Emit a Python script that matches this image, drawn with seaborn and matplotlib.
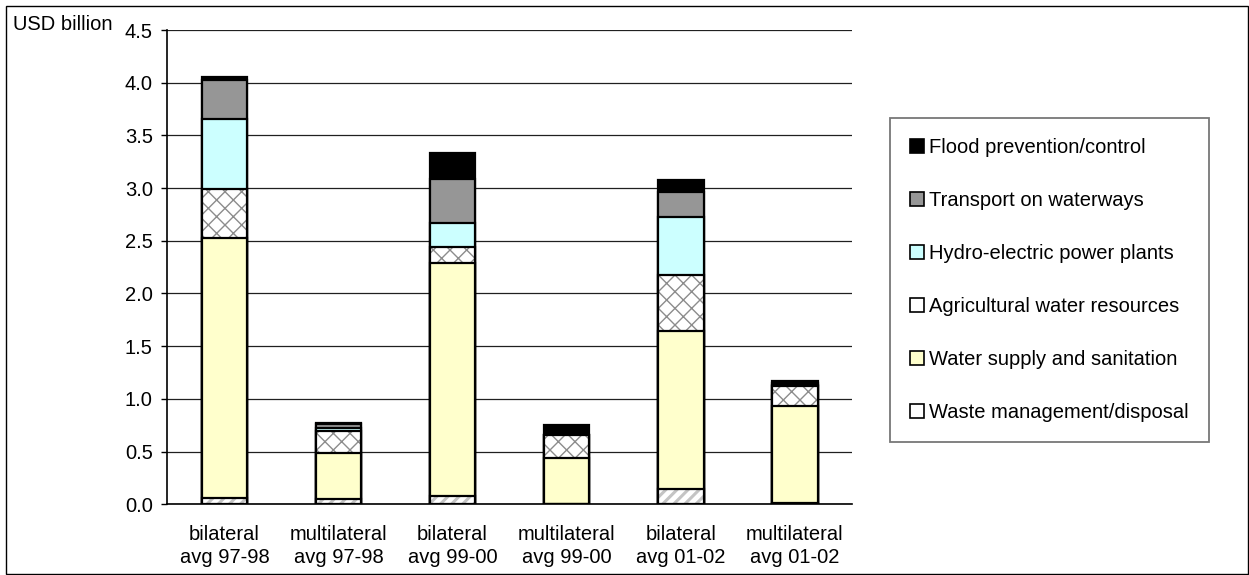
import numpy as np
import matplotlib
matplotlib.use("Agg")
import matplotlib.pyplot as plt
from matplotlib.patches import Patch, Rectangle
from matplotlib.ticker import MultipleLocator, FormatStrFormatter, FixedLocator
import seaborn as sns

# ---- data (USD billion) ----
categories = ["bilateral\navg 97-98", "multilateral\navg 97-98", "bilateral\navg 99-00",
              "multilateral\navg 99-00", "bilateral\navg 01-02", "multilateral\navg 01-02"]
waste = [0.055, 0.05, 0.08, 0.00, 0.145, 0.015]
water = [2.47, 0.435, 2.21, 0.44, 1.50, 0.92]
agri = [0.47, 0.215, 0.15, 0.22, 0.53, 0.19]
hydro = [0.66, 0.02, 0.23, 0.00, 0.55, 0.01]
transport = [0.37, 0.04, 0.42, 0.00, 0.24, 0.015]
flood = [0.025, 0.01, 0.24, 0.095, 0.11, 0.02]

series_names = ["Waste management/disposal", "Water supply and sanitation",
                "Agricultural water resources", "Hydro-electric power plants",
                "Transport on waterways", "Flood prevention/control"]
series_values = [waste, water, agri, hydro, transport, flood]

# fill colour, hatch pattern, hatch colour, hatch width per series (bottom to top)
styles = [
    ("#FFFFFF", "///", "#C4C4C4", 2.2),
    ("#FFFFCC", None, "#000000", 1.0),
    ("#FFFFFF", "xx", "#8C8C8C", 1.0),
    ("#CCFFFF", None, "#000000", 1.0),
    ("#969696", None, "#000000", 1.0),
    ("#000000", None, "#000000", 1.0),
]

sns.set_style("white")
plt.rcParams["font.family"] = ["Liberation Sans", "DejaVu Sans"]
plt.rcParams["hatch.linewidth"] = 1.0
plt.rcParams["text.color"] = "black"
plt.rcParams["xtick.color"] = "black"
plt.rcParams["ytick.color"] = "black"
plt.rcParams["xtick.labelcolor"] = "black"
plt.rcParams["ytick.labelcolor"] = "black"
FS = 14.5

fig = plt.figure(figsize=(12.49, 5.75), dpi=100)
ax = fig.add_axes([0.134, 0.123, 0.548, 0.8248])

# stacked columns: draw cumulative totals from the top series down so
# each lower segment covers the one above it
cum = np.cumsum(np.array(series_values), axis=0)
for i in range(len(series_names) - 1, -1, -1):
    face, hatch, hcol, hlw = styles[i]
    n0 = len(ax.patches)
    sns.barplot(x=categories, y=cum[i], order=categories, color=face,
                saturation=1, width=0.4, errorbar=None, ax=ax, zorder=2)
    new = ax.patches[n0:]
    for p in new:
        p.set_facecolor(face)
        p.set_edgecolor(hcol)
        p.set_linewidth(0)
        if hatch:
            p.set_hatch(hatch)
            if hasattr(p, "set_hatch_linewidth"):
                p.set_hatch_linewidth(hlw)
        ax.add_patch(Rectangle(p.get_xy(), p.get_width(), p.get_height(),
                               fill=False, edgecolor="black", linewidth=1.6, zorder=2))

ax.set_xlim(-0.5, len(categories) - 0.5)
ax.set_ylim(0, 4.5)
ax.yaxis.set_major_locator(MultipleLocator(0.5))
ax.yaxis.set_major_formatter(FormatStrFormatter("%.1f"))
ax.yaxis.grid(True, color="#202020", linewidth=0.9)
ax.xaxis.grid(False)
ax.set_axisbelow(True)

ax.set_xticks(range(len(categories)))
ax.set_xticklabels(categories, fontsize=FS, linespacing=1.25, color="black")
ax.xaxis.set_minor_locator(FixedLocator(np.arange(-0.5, len(categories), 1.0)))
ax.tick_params(axis="x", which="major", length=0, pad=15)
ax.tick_params(axis="x", which="minor", length=4.5, width=1, color="black", direction="out")
ax.tick_params(axis="y", which="major", length=4.5, width=1, color="black",
               direction="out", labelsize=FS, pad=6, left=True, labelcolor="black")
ax.set_xlabel("")
ax.set_ylabel("")

for side in ("top", "right"):
    ax.spines[side].set_visible(False)
for side in ("left", "bottom"):
    ax.spines[side].set_color("black")
    ax.spines[side].set_linewidth(1.2)

fig.text(13 / 1249, 1 - 25 / 575, "USD billion", fontsize=FS, ha="left", va="center",
         color="black")

# legend: top series listed first
handles = []
for i in range(len(series_names) - 1, -1, -1):
    face = styles[i][0]
    handles.append(Patch(facecolor=face, edgecolor="black", linewidth=1.2,
                         label=series_names[i]))
leg = fig.legend(handles=handles, loc="upper left",
                 bbox_to_anchor=(890 / 1249, 1 - 118.3 / 575),
                 frameon=True, fancybox=False, shadow=False, fontsize=FS,
                 handlelength=0.7, handleheight=0.7, handletextpad=0.25,
                 labelspacing=1.68, borderpad=1.0, borderaxespad=0)
leg.get_frame().set_edgecolor("#555555")
leg.get_frame().set_linewidth(1.3)
for t in leg.get_texts():
    t.set_color("black")

# outer chart border
fig.add_artist(Rectangle((6 / 1249, 1.5 / 575), (1247.5 - 6) / 1249, (569.5 - 1.5) / 575,
                         transform=fig.transFigure, fill=False, edgecolor="black", linewidth=1))

fig.savefig("out.png", dpi=100)
